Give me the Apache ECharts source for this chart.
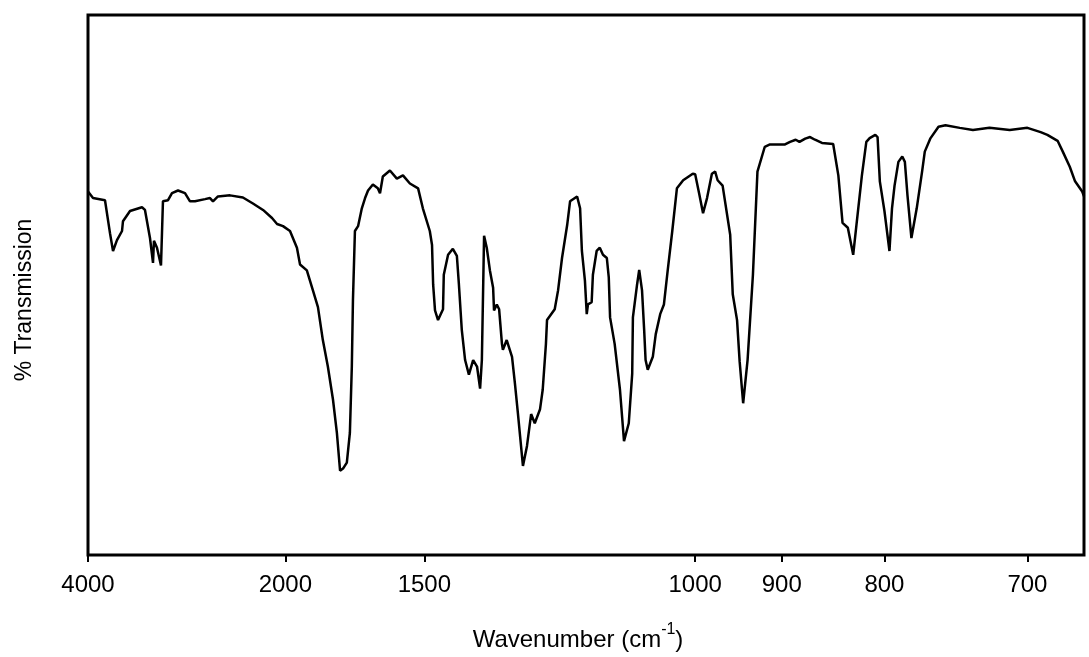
<!DOCTYPE html>
<html>
<head>
<meta charset="utf-8">
<script src="https://cdn.jsdelivr.net/npm/echarts@6/dist/echarts.min.js"></script>
<style>
  html, body { margin: 0; padding: 0; background: #ffffff; }
  #chart { width: 1089px; height: 657px; }
</style>
</head>
<body>
<div id="chart"></div>
<script>
// ---- Data (wavenumber in cm-1, % transmission) ----
const WAVENUMBER = [
  4000, 3901, 3683, 3599, 3550, 3488, 3412, 3398, 3298, 3141, 3104, 3044, 3009, 2998, 2964, 2920,
  2899, 2846, 2806, 2747, 2682, 2637, 2594, 2511, 2472, 2449, 2412, 2326, 2241, 2179, 2120, 2070,
  2043, 2012, 1978, 1946, 1932, 1902, 1876, 1855, 1835, 1815, 1795, 1780, 1768, 1757, 1743, 1732,
  1725, 1721, 1714, 1703, 1690, 1679, 1669, 1653, 1637, 1630, 1621, 1599, 1578, 1560, 1540, 1517,
  1504, 1485, 1479, 1476, 1471, 1463, 1450, 1448, 1437, 1425, 1415, 1410, 1403, 1395, 1386, 1376,
  1367, 1360, 1356, 1351, 1345, 1338, 1331, 1329, 1323, 1318, 1312, 1310, 1302, 1291, 1285, 1279,
  1269, 1261, 1253, 1246, 1236, 1231, 1225, 1223, 1209, 1203, 1196, 1187, 1182, 1170, 1165, 1162,
  1157, 1154, 1152, 1146, 1144, 1138, 1133, 1128, 1122, 1119, 1117, 1110, 1102, 1096, 1089, 1084,
  1083, 1077, 1074, 1070, 1067, 1065, 1062, 1055, 1051, 1045, 1040, 1035, 1029, 1023, 1015, 1003,
  1000, 995, 990, 985, 979, 975, 972, 966, 957, 954, 949, 946, 942, 937, 931, 926,
  918, 913, 904, 897, 891, 885, 881, 875, 870, 865, 858, 847, 842, 838, 833, 828,
  825, 820, 816, 813, 808, 806, 804, 800, 796, 794, 792, 789, 786, 784, 782, 779,
  775, 771, 769, 765, 759, 754, 744, 735, 724, 711, 700, 692, 688, 682, 679, 675,
  672, 668, 667
];
const TRANSMISSION = [
  67.3, 66.1, 65.7, 59.6, 56.3, 58.3, 60.0, 61.8, 63.7, 64.4, 63.9, 58.7, 54.1, 58.2, 56.9, 53.6,
  65.5, 65.7, 67.0, 67.5, 67.0, 65.5, 65.5, 65.9, 66.1, 65.5, 66.4, 66.6, 66.2, 65.1, 63.9, 62.4,
  61.3, 60.9, 60.0, 56.9, 53.8, 52.7, 49.0, 45.9, 39.8, 34.9, 28.8, 22.6, 15.6, 16.0, 17.1, 22.6,
  34.9, 47.2, 60.0, 60.9, 64.2, 66.1, 67.5, 68.6, 67.9, 67.0, 70.1, 71.2, 69.7, 70.3, 68.8, 67.9,
  64.2, 60.0, 57.4, 50.1, 45.3, 43.5, 45.5, 51.9, 55.6, 56.7, 55.4, 50.1, 41.7, 36.1, 33.4, 36.1,
  34.9, 30.8, 36.1, 59.1, 56.9, 52.7, 49.5, 45.3, 46.4, 45.5, 39.1, 38.0, 39.8, 36.7, 31.7, 26.2,
  16.5, 20.2, 26.1, 24.4, 27.0, 30.6, 39.1, 43.5, 45.5, 49.0, 55.0, 61.1, 65.5, 66.4, 64.2, 56.3,
  50.8, 44.6, 46.4, 46.8, 51.9, 56.3, 56.9, 55.6, 55.0, 51.4, 44.0, 39.1, 30.6, 21.1, 24.4, 33.6,
  44.0, 50.1, 52.8, 49.0, 41.7, 36.1, 34.3, 36.7, 40.9, 44.6, 46.4, 52.7, 60.0, 67.9, 69.4, 70.6,
  70.5, 67.0, 63.3, 66.1, 70.6, 71.0, 69.4, 68.4, 59.3, 48.3, 43.5, 35.8, 28.1, 36.1, 51.9, 71.0,
  75.6, 76.0, 76.0, 76.0, 76.5, 76.9, 76.5, 77.1, 77.4, 76.9, 76.3, 76.1, 70.3, 61.5, 60.6, 55.6,
  61.1, 70.3, 76.5, 77.2, 77.8, 77.4, 69.2, 63.7, 56.3, 64.2, 68.4, 72.8, 73.8, 72.8, 66.6, 58.7,
  64.2, 71.0, 74.7, 77.1, 79.3, 79.6, 79.1, 78.7, 79.1, 78.7, 79.1, 78.3, 77.8, 76.7, 74.7, 71.9,
  69.2, 67.3, 66.4
];

// ---- Axis tick labels (cm-1) ----
const TICK_WAVENUMBERS = [4000, 2000, 1500, 1000, 900, 800, 700];
const AXIS_END_WAVENUMBER = 667;

// Axis calibration of the printed scale: relative position of each tick
// (the printed scale is close to linear in wavelength, piecewise between ticks)
const CAL_WN  = [4000, 2000, 1500, 1000, 900, 800, 700];
const CAL_POS = [0, 197.4, 336.4, 607.3, 693.9, 796.6, 939.6];

function toAxis(wn) {
  const lam = 1e4 / wn;
  const L = CAL_WN.map(w => 1e4 / w);
  let i = 0;
  while (i < L.length - 2 && lam > L[i + 1]) i++;
  return CAL_POS[i] + (lam - L[i]) / (L[i + 1] - L[i]) * (CAL_POS[i + 1] - CAL_POS[i]);
}

const seriesData = WAVENUMBER.map((w, k) => [toAxis(w), TRANSMISSION[k]]);
const tickPos = TICK_WAVENUMBERS.map(toAxis);

function labelFor(v) {
  let best = 0, bd = Infinity;
  tickPos.forEach((p, k) => { const d = Math.abs(p - v); if (d < bd) { bd = d; best = k; } });
  return String(TICK_WAVENUMBERS[best]);
}

const FONT = '"Liberation Sans", Arial, Helvetica, sans-serif';
const chart = echarts.init(document.getElementById('chart'), null, { renderer: 'canvas' });
chart.setOption({
  backgroundColor: '#ffffff',
  animation: false,
  grid: {
    left: 88, right: 5, top: 15, bottom: 97,
    show: true, borderColor: '#000', borderWidth: 3, backgroundColor: 'transparent'
  },
  xAxis: {
    type: 'value',
    min: 0,
    max: toAxis(AXIS_END_WAVENUMBER),
    axisLine: { show: false },
    splitLine: { show: false },
    axisTick: { show: true, customValues: tickPos, length: 7, inside: false,
                lineStyle: { color: '#000', width: 2 } },
    axisLabel: { show: true, customValues: tickPos, formatter: labelFor, margin: 18,
                 color: '#000', fontSize: 24, fontFamily: FONT },
    name: '{n|Wavenumber (cm}{s|-1}{n|)}',
    nameLocation: 'middle',
    nameGap: 67,
    nameTextStyle: {
      padding: [0, 16, 0, 0],
      rich: {
        n: { fontSize: 24, fontFamily: FONT, color: '#000', lineHeight: 30, verticalAlign: 'bottom' },
        s: { fontSize: 16, fontFamily: FONT, color: '#000', lineHeight: 30, verticalAlign: 'top', padding: [0, 0, 12, 0] }
      }
    }
  },
  yAxis: {
    type: 'value',
    min: 0, max: 100,
    axisLine: { show: false },
    axisTick: { show: false },
    axisLabel: { show: false },
    splitLine: { show: false },
    name: '% Transmission',
    nameLocation: 'middle',
    nameGap: 52,
    nameTextStyle: { fontSize: 23, fontFamily: FONT, color: '#000', padding: [0, 30, 0, 0] }
  },
  series: [{
    type: 'line',
    data: seriesData,
    showSymbol: false,
    symbol: 'none',
    smooth: false,
    clip: true,
    lineStyle: { color: '#000', width: 2.5 }
  }]
});
</script>
</body>
</html>
